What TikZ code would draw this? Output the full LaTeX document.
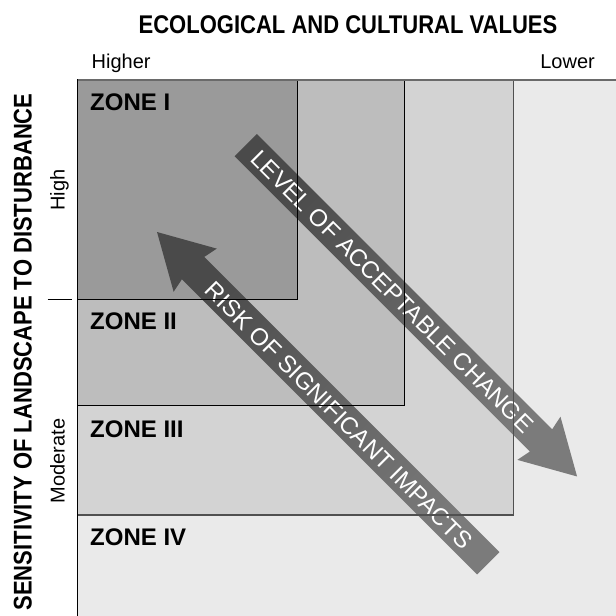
\documentclass[tikz,border=0pt]{standalone}
\usepackage{fontspec}
\setmainfont{Liberation Sans}
\newfontfamily\headfont[FakeStretch=0.86]{Liberation Sans}
\begin{document}
\begin{tikzpicture}[x=1pt,y=1pt,
  zoneline/.style={draw=black,line width=1pt},
  zonelabel/.style={anchor=base west,inner sep=0pt,font=\bfseries\fontsize{24}{28}\selectfont},
  axishead/.style={inner sep=0pt,font=\headfont\bfseries\fontsize{25.6}{30}\selectfont},
  axistick/.style={inner sep=0pt,font=\fontsize{20}{24}\selectfont},
  arrowtext/.style={inner sep=0pt,text=white,rotate=-45,font=\fontsize{24}{28}\selectfont},
  bigarrow/.style={top color=arrowdark,bottom color=arrowlight,shading angle=45}]
\definecolor{zoneone}{HTML}{9A9A9A}
\definecolor{zonetwo}{HTML}{BDBDBD}
\definecolor{zonethree}{HTML}{D3D3D3}
\definecolor{zonefour}{HTML}{EAEAEA}
\definecolor{zoneborder}{HTML}{505050}
\definecolor{topborder}{HTML}{6A6A6A}
\definecolor{arrowdark}{HTML}{4A4A4A}
\definecolor{arrowlight}{HTML}{7B7B7B}
\useasboundingbox (0,0) rectangle (616,616);
\fill[white] (0,0) rectangle (616,616);

% nested zones, lowest value first
\fill[zonefour] (77,0) rectangle (616,536);
\fill[zonethree] (77,101) rectangle (513.3,536);
\fill[zonetwo] (77,210) rectangle (404.3,536);
\fill[zoneone] (77,316.7) rectangle (297.7,536);

% level of acceptable change (tail at top left)
\begin{scope}[shift={(245.8,470.8)},rotate=-45]
  \shade[bigarrow] (0,-15.8) -- (417.5,-15.8) -- (414.5,-30.5) -- (468.5,0)
    -- (414.5,30.5) -- (417.5,15.8) -- (0,15.8) -- cycle;
\end{scope}
% risk of significant impacts (tail at bottom right)
\begin{scope}[shift={(488.3,52.7)},rotate=135]
  \shade[bigarrow] (0,-15.8) -- (417.5,-15.8) -- (414.5,-30.5) -- (468.5,0)
    -- (414.5,30.5) -- (417.5,15.8) -- (0,15.8) -- cycle;
\end{scope}
\node[arrowtext] (lac) at (392.2,324.4) {LEVEL OF ACCEPTABLE CHANGE};
\node[arrowtext] (rsi) at (339,200.5) {RISK OF SIGNIFICANT IMPACTS};

% zone outlines over the arrows
\draw[draw=zoneborder,line width=1.3pt] (77,101) -- (513.3,101) -- (513.3,536);
\draw[zoneline] (77,210) -- (404.3,210) -- (404.3,536);
\draw[zoneline] (77,316.7) -- (297.7,316.7) -- (297.7,536);
\draw[draw=topborder,line width=1.5pt] (77,536) -- (616,536);
\draw[zoneline] (77,0) -- (77,536.7);

\node[zonelabel] (z1) at (90,505.3) {ZONE I};
\node[zonelabel] (z2) at (90,286.7) {ZONE II};
\node[zonelabel] (z3) at (90,178.7) {ZONE III};
\node[zonelabel] (z4) at (90,70) {ZONE IV};

% axis titles and scale words
\node[axishead,anchor=base] (xtitle) at (348,582.7) {ECOLOGICAL AND CULTURAL VALUES};
\node[axistick,anchor=base west] (higher) at (91.5,547.7) {Higher};
\node[axistick,anchor=base east] (lower) at (595,547.7) {Lower};
\node[axishead,anchor=base,rotate=90] (ytitle) at (31.7,264) {SENSITIVITY OF LANDSCAPE TO DISTURBANCE};
\node[axistick,anchor=base,rotate=90] (high) at (64.5,426) {High};
\node[axistick,anchor=base,rotate=90] (moderate) at (64.5,155) {Moderate};
\draw[line width=1pt] (47.7,316.7) -- (71.7,316.7);
\end{tikzpicture}
\end{document}
